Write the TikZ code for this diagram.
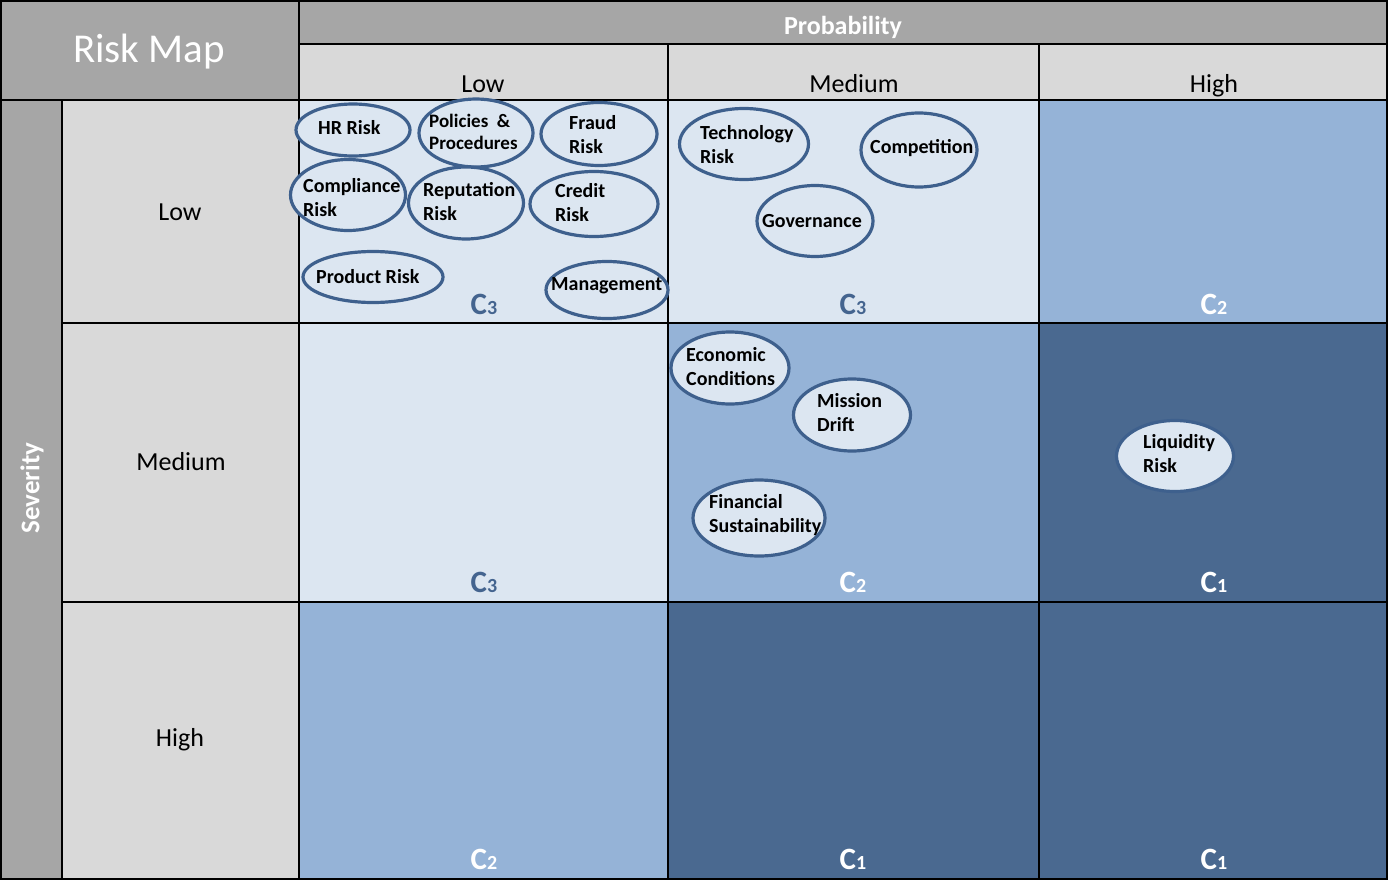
\documentclass[tikz,border=0pt]{standalone}
\usepackage{fontspec}
\setmainfont{Carlito}
\usetikzlibrary{shapes.geometric}
\definecolor{hdrdark}{HTML}{A6A6A6}
\definecolor{hdrlight}{HTML}{D9D9D9}
\definecolor{lowc}{HTML}{DCE6F1}
\definecolor{midc}{HTML}{95B3D7}
\definecolor{highc}{HTML}{4A6990}
\definecolor{ringc}{HTML}{3E608D}
\definecolor{cdark}{HTML}{44648F}
\tikzset{
  grid/.style={line width=2pt, black},
  risk/.style={ellipse, draw=ringc, line width=3.2pt, fill=lowc, inner sep=0pt},
  rtext/.style={anchor=west, align=left, inner sep=0pt, font=\fontsize{20}{24}\selectfont\bfseries},
  hdr/.style={inner sep=0pt, font=\fontsize{26}{26}\selectfont},
  clab/.style={anchor=base, inner sep=0pt, font=\bfseries},
}
\newcommand{\clevel}[1]{{\fontsize{31}{31}\selectfont C}{\fontsize{20}{20}\selectfont #1}}
\begin{document}
\begin{tikzpicture}[x=1pt,y=-1pt]
\useasboundingbox (0,0) rectangle (1388,880);
% header fills
\fill[hdrdark] (0,0) rectangle (299,100);
\fill[hdrdark] (299,0) rectangle (1388,44);
\fill[hdrlight] (299,44) rectangle (1388,100);
\fill[hdrdark] (0,100) rectangle (62,880);
\fill[hdrlight] (62,100) rectangle (299,880);
% cells
\fill[lowc] (299,100) rectangle (668,323);
\fill[lowc] (668,100) rectangle (1039,323);
\fill[midc] (1039,100) rectangle (1388,323);
\fill[lowc] (299,323) rectangle (668,602);
\fill[midc] (668,323) rectangle (1039,602);
\fill[highc] (1039,323) rectangle (1388,602);
\fill[midc] (299,602) rectangle (668,880);
\fill[highc] (668,602) rectangle (1039,880);
\fill[highc] (1039,602) rectangle (1388,880);
% grid lines
\draw[grid] (1,1) rectangle (1387,879);
\draw[grid] (299,0) -- (299,880);
\draw[grid] (299,44) -- (1388,44);
\draw[grid] (0,100) -- (1388,100);
\draw[grid] (668,44) -- (668,880);
\draw[grid] (1039,44) -- (1039,880);
\draw[grid] (62,100) -- (62,880);
\draw[grid] (62,323) -- (1388,323);
\draw[grid] (62,602) -- (1388,602);
% header texts
\node[hdr, text=white, font=\fontsize{41}{41}\selectfont] (title) at (149,52) {Risk Map};
\node[hdr, text=white, font=\fontsize{26}{26}\selectfont\bfseries] (prob) at (843,27) {Probability};
\node[hdr, anchor=base] (pl) at (483,93) {Low};
\node[hdr, anchor=base] (pm) at (854,93) {Medium};
\node[hdr, anchor=base] (ph) at (1214,93) {High};
\node[hdr, text=white, font=\fontsize{27}{27}\selectfont\bfseries, rotate=90] (sev) at (32,488) {Severity};
\node[hdr] (sl) at (180,212) {Low};
\node[hdr] (sm) at (181,462) {Medium};
\node[hdr] (sh) at (180,740) {High};
% level labels
\node[clab, text=cdark] (l11) at (484,314) {\clevel{3}};
\node[clab, text=cdark] (l12) at (853,314) {\clevel{3}};
\node[clab, text=white] (l13) at (1214,314) {\clevel{2}};
\node[clab, text=cdark] (l21) at (484,592) {\clevel{3}};
\node[clab, text=white] (l22) at (853,592) {\clevel{2}};
\node[clab, text=white] (l23) at (1214,592) {\clevel{1}};
\node[clab, text=white] (l31) at (484,869) {\clevel{2}};
\node[clab, text=white] (l32) at (853,869) {\clevel{1}};
\node[clab, text=white] (l33) at (1214,869) {\clevel{1}};
% risk ellipses
\node[risk, minimum width=114, minimum height=52] (hr) at (353,130) {};
\node[risk, minimum width=114, minimum height=68] (pol) at (476,133) {};
\node[risk, minimum width=116, minimum height=63] (fra) at (599,134) {};
\node[risk, minimum width=115, minimum height=71] (com) at (348,195) {};
\node[risk, minimum width=115, minimum height=72] (rep) at (466,203) {};
\node[risk, minimum width=128, minimum height=65] (cre) at (594,204) {};
\node[risk, minimum width=140, minimum height=51] (pro) at (373,277) {};
\node[risk, minimum width=122, minimum height=57] (man) at (607,290) {};
\node[risk, minimum width=129, minimum height=71] (tec) at (744,144) {};
\node[risk, minimum width=116, minimum height=74] (cmp) at (919,150) {};
\node[risk, minimum width=116, minimum height=71] (gov) at (815,221) {};
\node[risk, minimum width=118, minimum height=72] (eco) at (730,368) {};
\node[risk, minimum width=117, minimum height=72] (mis) at (852,415) {};
\node[risk, minimum width=132, minimum height=76] (fin) at (759,518) {};
\node[risk, minimum width=117, minimum height=71] (liq) at (1175,456) {};
% risk texts
\node[rtext] (thr) at (318,128) {HR Risk};
\node[rtext, font=\fontsize{19}{22}\selectfont\bfseries] (tpol) at (429,132) {Policies~~\&\\Procedures};
\node[rtext] (tfra) at (569,135) {Fraud\\Risk};
\node[rtext] (tcom) at (303,198) {Compliance\\Risk};
\node[rtext] (trep) at (423,202) {Reputation\\Risk};
\node[rtext] (tcre) at (555,203) {Credit\\Risk};
\node[rtext] (tpro) at (316,277) {Product Risk};
\node[rtext] (tman) at (551,286) {Management};
\node[rtext] (ttec) at (700,145) {Technology\\Risk};
\node[rtext] (tcmp) at (870,148) {Competition};
\node[rtext] (tgov) at (762,221) {Governance};
\node[rtext] (teco) at (686,367) {Economic\\Conditions};
\node[rtext] (tmis) at (817,413) {Mission\\Drift};
\node[rtext] (tfin) at (709,515) {Financial\\Sustainability};
\node[rtext] (tliq) at (1143,454) {Liquidity\\Risk};
\end{tikzpicture}
\end{document}
